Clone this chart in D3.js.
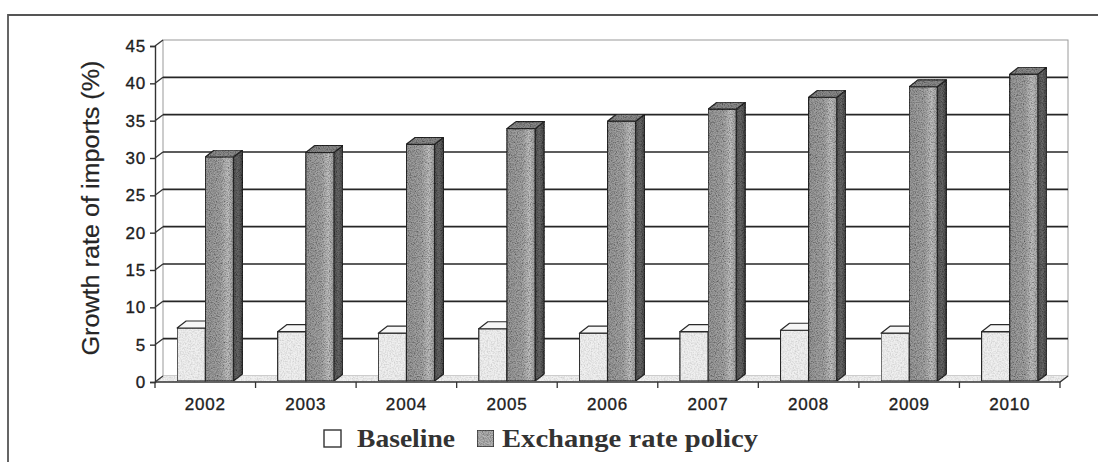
<!DOCTYPE html>
<html>
<head>
<meta charset="utf-8">
<script src="https://cdn.jsdelivr.net/npm/d3@7"></script>
<style>
  html, body { margin: 0; padding: 0; background: #fff; }
  svg { display: block; }
</style>
</head>
<body>
<svg id="chart" width="1098" height="462"></svg>
<script>
// Growth rate of imports (%): baseline vs. exchange rate policy scenario
const years = ["2002", "2003", "2004", "2005", "2006", "2007", "2008", "2009", "2010"];
const baseline = [7.1, 6.6, 6.4, 7.0, 6.4, 6.6, 6.8, 6.4, 6.6];
const policy = [30.0, 30.6, 31.7, 33.8, 34.8, 36.4, 38.0, 39.4, 41.1];
const seriesNames = ["Baseline", "Exchange rate policy"];
const yTicks = [0, 5, 10, 15, 20, 25, 30, 35, 40, 45];
const yTitle = "Growth rate of imports (%)";

const svg = d3.select("#chart");

// 3-D offsets: the back wall sits behind the front axis plane, bars have their own depth
const wall = { dx: 8, dy: -6 };
const bar = { dx: 9, dy: -7 };

const y = d3.scaleLinear().domain([0, 45]).range([382, 46]);
const x = d3.scaleBand().domain(years).range([155, 1060]).paddingInner(0.44).paddingOuter(0.22);
const xs = d3.scaleBand().domain(seriesNames).range([0, x.bandwidth()]);

// grain texture and shading definitions
const defs = svg.append("defs");
function makeGrain(id, freq, seed, a, b) {
  const f = defs.append("filter").attr("id", id)
    .attr("x", "0%").attr("y", "0%").attr("width", "100%").attr("height", "100%");
  f.append("feTurbulence").attr("type", "fractalNoise").attr("baseFrequency", freq)
    .attr("numOctaves", 2).attr("seed", seed).attr("result", "noise");
  f.append("feColorMatrix").attr("in", "noise").attr("type", "matrix")
    .attr("values", `0 0 0 0 0  0 0 0 0 0  0 0 0 0 0  ${a} 0 0 0 ${b}`).attr("result", "dots");
  f.append("feComposite").attr("in", "dots").attr("in2", "SourceGraphic")
    .attr("operator", "in").attr("result", "clipped");
  const m = f.append("feMerge");
  m.append("feMergeNode").attr("in", "SourceGraphic");
  m.append("feMergeNode").attr("in", "clipped");
}
makeGrain("grain", 0.85, 7, 1.5, -0.55);
makeGrain("grainLight", 0.7, 3, 0.6, -0.22);

const frontGrad = defs.append("linearGradient").attr("id", "policyFront")
  .attr("x1", "0%").attr("x2", "100%").attr("y1", "0%").attr("y2", "0%");
[["0%", "#999"], ["55%", "#a4a4a4"], ["80%", "#c2c2c2"], ["100%", "#a2a2a2"]]
  .forEach(([o, c]) => frontGrad.append("stop").attr("offset", o).attr("stop-color", c));

const sideGrad = defs.append("linearGradient").attr("id", "policySide")
  .attr("x1", "0%").attr("x2", "100%").attr("y1", "0%").attr("y2", "0%");
[["0%", "#565656"], ["50%", "#6a6a6a"], ["100%", "#484848"]]
  .forEach(([o, c]) => sideGrad.append("stop").attr("offset", o).attr("stop-color", c));

// outer frame
svg.append("path").attr("d", "M8,462 L8,15 L1098,15")
  .attr("fill", "none").attr("stroke", "#555").attr("stroke-width", 1.8);

// back wall
const x0 = x.range()[0], x1 = x.range()[1];
const y0 = y(0), yTop = y(45);
svg.append("rect")
  .attr("x", x0 + wall.dx).attr("y", yTop + wall.dy)
  .attr("width", x1 - x0).attr("height", y0 - yTop)
  .attr("fill", "#fff").attr("stroke", "#9a9a9a").attr("stroke-width", 1);

// gridlines on the back wall
svg.append("g").selectAll("line")
  .data(yTicks.filter(t => t > 0 && t < 45))
  .join("line")
  .attr("x1", x0 + wall.dx).attr("x2", x1 + wall.dx)
  .attr("y1", d => y(d) + wall.dy).attr("y2", d => y(d) + wall.dy)
  .attr("stroke", "#262626").attr("stroke-width", 1.6);

// floor
svg.append("path")
  .attr("d", `M${x0},${y0} L${x1},${y0} L${x1 + wall.dx},${y0 + wall.dy} L${x0 + wall.dx},${y0 + wall.dy} Z`)
  .attr("fill", "#f1f1f1").attr("filter", "url(#grainLight)");
svg.append("path")
  .attr("d", `M${x0},${y0} L${x1},${y0} L${x1 + wall.dx},${y0 + wall.dy}`)
  .attr("fill", "none").attr("stroke", "#333").attr("stroke-width", 1.4);

const numFont = "'Liberation Sans', Arial, sans-serif";

// y axis on the front plane with connectors to the back wall
const yAxis = svg.append("g").attr("transform", `translate(${x0},0)`)
  .call(d3.axisLeft(y).tickValues(yTicks).tickSize(5).tickPadding(4));
yAxis.select(".domain").attr("stroke", "#333").attr("stroke-width", 1.4);
yAxis.selectAll(".tick line").attr("stroke", "#333").attr("stroke-width", 1.4);
yAxis.selectAll(".tick text")
  .attr("font-family", numFont).attr("font-size", 17).attr("letter-spacing", 0.8)
  .attr("fill", "#1e1e1e").attr("stroke", "#1e1e1e").attr("stroke-width", 0.35);
svg.append("g").selectAll("line").data(yTicks).join("line")
  .attr("x1", x0).attr("y1", d => y(d))
  .attr("x2", x0 + wall.dx).attr("y2", d => y(d) + wall.dy)
  .attr("stroke", "#333").attr("stroke-width", 1.3);

// x axis: labels at category centres, ticks on category boundaries
const xAxis = svg.append("g").attr("transform", `translate(0,${y0})`)
  .call(d3.axisBottom(x).tickSize(0).tickPadding(16));
xAxis.select(".domain").remove();
xAxis.selectAll(".tick text")
  .attr("font-family", numFont).attr("font-size", 17).attr("letter-spacing", 0.8)
  .attr("fill", "#1e1e1e").attr("stroke", "#1e1e1e").attr("stroke-width", 0.35);
const bounds = years.map((d, i) => x0 + x.step() * i).concat([x1]);
svg.append("g").selectAll("line").data(bounds).join("line")
  .attr("x1", d => d).attr("x2", d => d)
  .attr("y1", y0).attr("y2", y0 + 6)
  .attr("stroke", "#333").attr("stroke-width", 1.3);

// y axis title
svg.append("text")
  .attr("transform", `translate(99,208) rotate(-90)`)
  .attr("text-anchor", "middle")
  .attr("font-family", numFont)
  .attr("font-size", 23).attr("fill", "#262626")
  .attr("stroke", "#262626").attr("stroke-width", 0.2)
  .attr("textLength", 295).attr("lengthAdjust", "spacingAndGlyphs")
  .text(yTitle);

// 3-D columns
const barBottom = y0 - 1;
const bars = svg.append("g");
years.forEach((yr, i) => {
  const rows = [
    { name: seriesNames[0], v: baseline[i] },
    { name: seriesNames[1], v: policy[i] }
  ];
  rows.forEach(r => {
    const bx0 = x(yr) + xs(r.name);
    const bx1 = bx0 + xs.bandwidth();
    const bt = y(r.v) - 1;
    const g = bars.append("g");
    const isPolicy = r.name === seriesNames[1];
    // side face
    g.append("path")
      .attr("d", `M${bx1},${barBottom} L${bx1 + bar.dx},${barBottom + bar.dy} L${bx1 + bar.dx},${bt + bar.dy} L${bx1},${bt} Z`)
      .attr("fill", isPolicy ? "url(#policySide)" : "#dcdcdc")
      .attr("stroke", "#2a2a2a").attr("stroke-width", 1.2).attr("stroke-linejoin", "round")
      .attr("filter", isPolicy ? "url(#grain)" : null);
    // front face
    g.append("rect")
      .attr("x", bx0).attr("y", bt).attr("width", bx1 - bx0).attr("height", barBottom - bt)
      .attr("fill", isPolicy ? "url(#policyFront)" : "#f0f0f0")
      .attr("stroke", "#2a2a2a").attr("stroke-width", 1.2)
      .attr("filter", isPolicy ? "url(#grain)" : "url(#grainLight)");
    // top face
    g.append("path")
      .attr("d", `M${bx0},${bt} L${bx1},${bt} L${bx1 + bar.dx},${bt + bar.dy} L${bx0 + bar.dx},${bt + bar.dy} Z`)
      .attr("fill", isPolicy ? "#8a8a8a" : "#f6f6f6")
      .attr("stroke", "#2a2a2a").attr("stroke-width", 1.2).attr("stroke-linejoin", "round")
      .attr("filter", isPolicy ? "url(#grain)" : null);
  });
});

// legend
const legend = svg.append("g");
const legendItems = [
  { name: seriesNames[0], sx: 324, tx: 357, len: 98, fill: "#fff", filter: null },
  { name: seriesNames[1], sx: 477, tx: 502, len: 256, fill: "#b4b4b4", filter: "url(#grain)" }
];
legendItems.forEach(it => {
  legend.append("rect")
    .attr("x", it.sx).attr("y", 430).attr("width", 17).attr("height", 17)
    .attr("fill", it.fill).attr("stroke", "#333").attr("stroke-width", 1.4)
    .attr("filter", it.filter);
  legend.append("text")
    .attr("x", it.tx).attr("y", 447)
    .attr("font-family", "'Liberation Serif', 'Times New Roman', serif")
    .attr("font-weight", "bold").attr("font-size", 25).attr("fill", "#333")
    .attr("textLength", it.len).attr("lengthAdjust", "spacingAndGlyphs")
    .text(it.name);
});
</script>
</body>
</html>
